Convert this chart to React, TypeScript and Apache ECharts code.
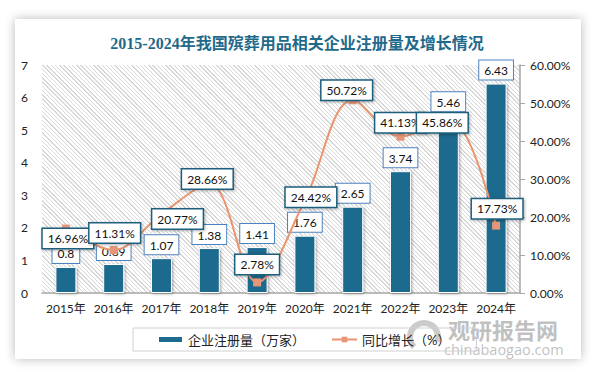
import React, { useEffect, useRef } from "react";
import * as echarts from "echarts";

const years = ["2015年", "2016年", "2017年", "2018年", "2019年", "2020年", "2021年", "2022年", "2023年", "2024年"];
const registrations = [0.8, 0.89, 1.07, 1.38, 1.41, 1.76, 2.65, 3.74, 5.46, 6.43];
const growth = [16.96, 11.31, 20.77, 28.66, 2.78, 24.42, 50.72, 41.13, 45.86, 17.73];
const leftTicks = { min: 0, max: 7, interval: 1 };
const rightTicks = { min: 0, max: 60, interval: 10 };

const titleText = "2015-2024年我国殡葬用品相关企业注册量及增长情况";
const barName = "企业注册量（万家）";
const lineName = "同比增长（%）";

// label placement (layout only)
const growthLabelOffsets = [
  [2, 10], [1, -17], [16, 5], [-2, -5], [0, -18],
  [6, -3], [-6, -10], [0, -14], [-6, 4], [1, -17],
];

const GRID = { left: 42, right: 74, top: 65, bottom: 79 };
const W = 594;
const H = 372;
const FONT = "Lato, 'Noto Sans CJK SC', sans-serif";

export default function App() {
  const ref = useRef<HTMLDivElement>(null);

  useEffect(() => {
    if (!ref.current) return;
    const chart = echarts.init(ref.current, undefined, { renderer: "svg" });
    chart.setOption({
      animation: false,
      backgroundColor: "transparent",
      textStyle: { fontFamily: FONT },
      title: {
        text: titleText,
        left: "center",
        top: 30,
        textStyle: {
          fontSize: 16,
          fontWeight: "bold",
          color: "#1f6a8b",
          fontFamily: "'Liberation Serif', 'Noto Sans CJK SC', serif",
        },
      },
      grid: GRID,
      legend: {
        left: 133,
        top: 328,
        padding: [5, 26, 5, 24],
        borderColor: "#d0d0d0",
        borderWidth: 1,
        itemGap: 26,
        itemWidth: 25,
        itemHeight: 7,
        textStyle: { fontSize: 13, color: "#222", fontFamily: FONT },
        data: [
          { name: barName, icon: "rect" },
          { name: lineName },
        ],
      },
      xAxis: {
        type: "category",
        data: years,
        axisLine: { lineStyle: { color: "#a6a6a6", width: 1.5 } },
        axisTick: { show: false },
        axisLabel: { color: "#222", fontSize: 12, margin: 9, interval: 0, fontFamily: FONT },
      },
      yAxis: [
        {
          type: "value",
          ...leftTicks,
          axisLine: { show: false },
          axisTick: { show: false },
          splitLine: { show: false },
          axisLabel: { color: "#222", fontSize: 12, margin: 14, fontFamily: FONT },
        },
        {
          type: "value",
          ...rightTicks,
          position: "right",
          axisLine: { show: true, lineStyle: { color: "#a6a6a6", width: 1.5 } },
          axisTick: { show: true, length: 5, lineStyle: { color: "#a6a6a6" } },
          splitLine: { show: false },
          axisLabel: {
            color: "#222",
            fontSize: 12,
            margin: 10,
            fontFamily: FONT,
            formatter: (v: number) => v.toFixed(2) + "%",
          },
        },
      ],
      series: [
        {
          name: barName,
          type: "bar",
          yAxisIndex: 0,
          data: registrations,
          barWidth: 21,
          itemStyle: {
            color: "#1c6b8e",
            borderColor: "#ffffff",
            borderWidth: 1,
            shadowBlur: 3,
            shadowColor: "rgba(0,0,0,0.35)",
            shadowOffsetX: 1,
            shadowOffsetY: 1,
          },
          label: {
            show: true,
            position: "top",
            distance: 4,
            color: "#111",
            fontSize: 12,
            fontFamily: FONT,
            backgroundColor: "#fff",
            borderColor: "#4f81bd",
            borderWidth: 1,
            padding: [4, 5, 3, 5],
          },
          emphasis: { disabled: true },
          z: 2,
        },
        {
          name: lineName,
          type: "line",
          yAxisIndex: 1,
          smooth: 0.35,
          symbol: "rect",
          symbolSize: 8,
          data: growth.map((v, i) => ({
            value: v,
            label: { offset: growthLabelOffsets[i] },
          })),
          lineStyle: { color: "#e9956e", width: 2 },
          itemStyle: { color: "#e8967a" },
          label: {
            show: true,
            position: "inside",
            color: "#111",
            fontSize: 12,
            fontFamily: FONT,
            backgroundColor: "#fff",
            borderColor: "#1e5f7e",
            borderWidth: 1.5,
            padding: [4, 5, 3, 5],
            shadowBlur: 3,
            shadowColor: "rgba(0,0,0,0.3)",
            shadowOffsetX: 1,
            shadowOffsetY: 1,
            formatter: (p: any) => Number(p.value).toFixed(2) + "%",
          },
          emphasis: { disabled: true },
          z: 5,
        },
      ],
      graphic: [
        {
          type: "arc",
          shape: { cx: 424, cy: 337, r: 14, startAngle: Math.PI * 0.75, endAngle: Math.PI * 2.1 },
          style: { stroke: "rgba(160,160,160,0.55)", lineWidth: 6, fill: "none" },
          silent: true,
        },
        {
          type: "text",
          x: 448,
          y: 318,
          style: {
            text: "观研报告网",
            fontSize: 22,
            fontWeight: "bold",
            fill: "rgba(150,150,150,0.6)",
            fontFamily: "'Noto Sans CJK SC', sans-serif",
          },
          silent: true,
        },
        {
          type: "text",
          x: 444,
          y: 342,
          style: {
            text: "chinabaogao.com",
            fontSize: 14.5,
            fill: "rgba(150,150,150,0.6)",
            fontFamily: "'Open Sans', sans-serif",
          },
          silent: true,
        },
      ],
    });
    return () => chart.dispose();
  }, []);

  return (
    <div style={{ position: "absolute", left: 0, top: 0, width: W, height: H, background: "#ffffff", overflow: "hidden" }}>
      <div
        style={{
          position: "absolute",
          left: 15,
          top: 19,
          width: 566,
          height: 340,
          background: "#ffffff",
          boxShadow: "0 0 10px rgba(0,0,0,0.28)",
        }}
      />
      <div
        style={{
          position: "absolute",
          left: GRID.left,
          top: GRID.top,
          width: W - GRID.left - GRID.right,
          height: H - GRID.top - GRID.bottom,
          background: "repeating-linear-gradient(45deg, #ffffff 0px, #ffffff 2px, #d8d8d8 2px, #d8d8d8 3px)",
        }}
      />
      <div ref={ref} style={{ position: "absolute", left: 0, top: 0, width: W, height: H }} />
    </div>
  );
}
